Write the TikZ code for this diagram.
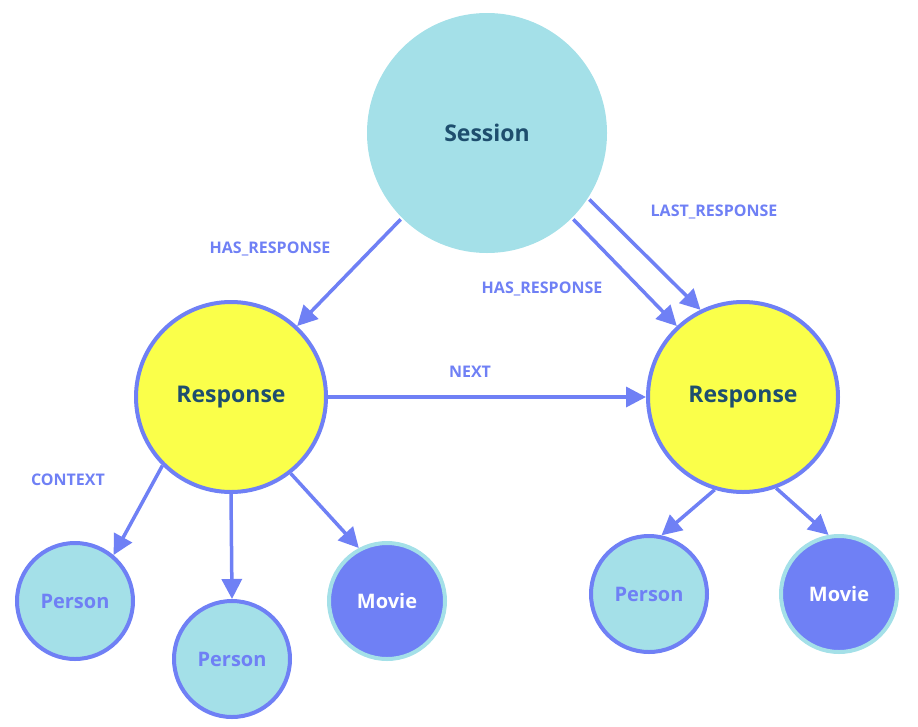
\documentclass[tikz,border=0pt]{standalone}
\usepackage{fontspec}
\setmainfont{Open Sans}
\usetikzlibrary{arrows.meta}
\definecolor{edge}{HTML}{6F80F5}
\definecolor{cyanf}{HTML}{A4E0E8}
\definecolor{yel}{HTML}{FAFF4A}
\definecolor{dark}{HTML}{1E4E6E}
\begin{document}
\begin{tikzpicture}[x=1pt,y=-1pt,
  n/.style={circle,inner sep=0,line width=4pt,font=\fontsize{20}{20}\selectfont\bfseries},
  sess/.style={n,fill=cyanf,draw=none,minimum size=240,text=dark,font=\fontsize{23}{23}\selectfont\bfseries},
  resp/.style={n,fill=yel,draw=edge,minimum size=190,text=dark,font=\fontsize{23}{23}\selectfont\bfseries},
  pers/.style={n,fill=cyanf,draw=edge,minimum size=116,text=edge},
  mov/.style={n,fill=edge,draw=cyanf,minimum size=116,text=white},
  e/.style={draw=edge,line width=3.5pt,-{Triangle[length=20pt,width=20pt]}},
  lab/.style={text=edge,font=\fontsize{16}{16}\selectfont\bfseries}]
\useasboundingbox (0,0) rectangle (918,726);
\node[sess] (s) at (487,133) {Session};
\node[resp] (r1) at (231,397) {Response};
\node[resp] (r2) at (743,397) {Response};
\node[pers] (p1) at (75,601) {Person};
\node[pers] (p2) at (232,659) {Person};
\node[mov] (m1) at (387,601) {Movie};
\node[pers] (p3) at (649,594) {Person};
\node[mov] (m2) at (839,594) {Movie};
\draw[e] (s.-135) -- (r1.47);
\draw[e] (s.-45) -- (r2.133);
\draw[e] (s.-33) -- (r2.116);
\draw[e] (r1) -- (r2);
\draw[e] (r1.-135) -- (p1.50);
\draw[e] (r1.-90) -- (p2.90);
\draw[e] (r1.-52) -- (m1.118);
\draw[e] (r2.-107) -- (p3.78);
\draw[e] (r2.-70) -- (m2.100);
\node[lab] (l1) at (270,249) {HAS\_RESPONSE};
\node[lab] (l2) at (542,289) {HAS\_RESPONSE};
\node[lab] (l3) at (714,212) {LAST\_RESPONSE};
\node[lab] (l4) at (470,372) {NEXT};
\node[lab] (l5) at (68,480) {CONTEXT};
\end{tikzpicture}
\end{document}
